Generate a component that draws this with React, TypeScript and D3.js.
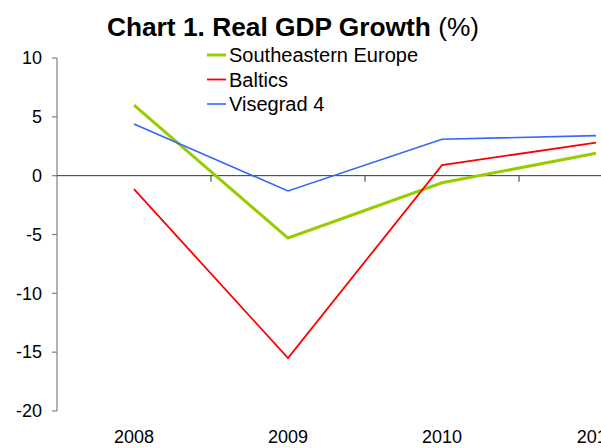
import React from 'react';
import * as d3 from 'd3';

const years = ['2008', '2009', '2010', '2011'];
const southeastern = [6.0, -5.3, -0.6, 1.9];
const baltics = [-1.15, -15.5, 0.9, 2.8];
const visegrad = [4.4, -1.3, 3.1, 3.4];
const yTicks = [10, 5, 0, -5, -10, -15, -20];

const series = [
  { name: 'Southeastern Europe', values: southeastern, color: '#99cc00', width: 3 },
  { name: 'Baltics', values: baltics, color: '#ff0000', width: 1.8 },
  { name: 'Visegrad 4', values: visegrad, color: '#3366ff', width: 1.6 },
];

const W = 601;
const H = 448;
const font = 'Arial, "Liberation Sans", sans-serif';

const App: React.FC = () => {
  const x = d3.scaleBand().domain(years).range([57, 673]);
  const y = d3.scaleLinear().domain([-20, 10]).range([411, 58]);
  const line = d3
    .line<number>()
    .x((_, i) => (x(years[i]) as number) + x.bandwidth() / 2)
    .y(d => y(d));

  return (
    <div style={{ position: 'absolute', left: 0, top: 0, width: W, height: H, overflow: 'hidden', background: '#fff' }}>
      <svg width={W} height={H} style={{ display: 'block', fontFamily: font }}>
        <text x={293} y={36} textAnchor="middle" fontSize={26.3} fill="#000">
          <tspan fontWeight="bold">Chart 1. Real GDP Growth</tspan>
          <tspan> (%)</tspan>
        </text>

        {/* y axis */}
        <line x1={57} x2={57} y1={y(10)} y2={y(-20)} stroke="#808080" strokeWidth={1.2} />
        {yTicks.map(t => (
          <g key={t}>
            <line x1={52} x2={57} y1={y(t)} y2={y(t)} stroke="#808080" strokeWidth={1.2} />
            <text x={42} y={y(t)} dy="0.35em" textAnchor="end" fontSize={18} fill="#000">
              {t}
            </text>
          </g>
        ))}

        {/* x axis at zero */}
        <line x1={57} x2={W} y1={y(0)} y2={y(0)} stroke="#333" strokeWidth={1} />
        {years.map(yr => (
          <line
            key={yr}
            x1={(x(yr) as number) + x.bandwidth()}
            x2={(x(yr) as number) + x.bandwidth()}
            y1={y(0)}
            y2={y(0) + 6}
            stroke="#555"
            strokeWidth={1.2}
          />
        ))}
        {years.map(yr => (
          <text
            key={yr}
            x={(x(yr) as number) + x.bandwidth() / 2}
            y={443}
            textAnchor="middle"
            fontSize={18}
            fill="#000"
          >
            {yr}
          </text>
        ))}

        {series.map(s => (
          <path key={s.name} d={line(s.values) as string} fill="none" stroke={s.color} strokeWidth={s.width} />
        ))}

        {/* legend */}
        {series.map((s, i) => (
          <g key={s.name} transform={`translate(207, ${55 + i * 24.5})`}>
            <line x1={0} x2={19} y1={0} y2={0} stroke={s.color} strokeWidth={s.width} />
            <text x={22} y={0} dy="0.35em" fontSize={20} fill="#000">
              {s.name}
            </text>
          </g>
        ))}
      </svg>
    </div>
  );
};

export default App;
